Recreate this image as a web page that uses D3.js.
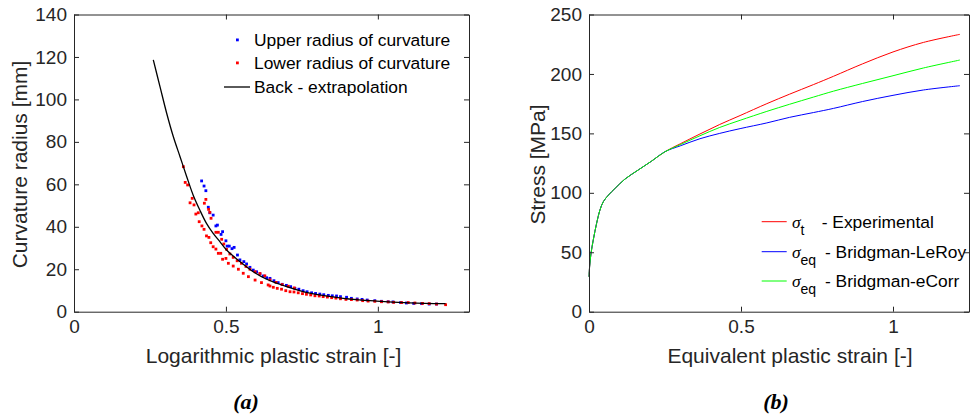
<!DOCTYPE html>
<html>
<head>
<meta charset="utf-8">
<script src="https://cdn.jsdelivr.net/npm/d3@7"></script>
<style>
  body { margin: 0; background: #fff; }
  text { font-family: "Liberation Sans", Arial, sans-serif; fill: #262626; }
  .tick text { font-size: 19px; }
  .caption { font-family: "Liberation Serif", serif; font-style: italic; font-weight: bold; font-size: 22px; fill: #000; }
</style>
</head>
<body>
<div class="chart"></div>
<script>
// ---- panel (a) data : curvature radius vs logarithmic plastic strain ----
var backStrain = [0.261, 0.283, 0.305, 0.327, 0.349, 0.371, 0.392, 0.414, 0.436, 0.458, 0.480, 0.502,
  0.546, 0.590, 0.634, 0.700, 0.776, 0.886, 0.996, 1.105, 1.223];
var backRadius = [118.6, 106.0, 93.5, 82.4, 73.0, 63.6, 55.0, 47.9, 41.6, 36.9, 33.0, 29.1,
  23.6, 18.8, 15.3, 11.8, 8.7, 6.3, 5.0, 4.2, 3.8];

var upperStrain = [0.420, 0.428, 0.434, 0.442, 0.447, 0.458, 0.467, 0.472, 0.484, 0.489, 0.500, 0.504,
  0.511, 0.520, 0.527, 0.538, 0.546, 0.559, 0.568, 0.579, 0.590, 0.601, 0.612, 0.623, 0.634,
  0.645, 0.658, 0.672, 0.685, 0.699, 0.713, 0.727, 0.740, 0.754, 0.767, 0.782, 0.795, 0.809, 0.822,
  0.837, 0.850, 0.864, 0.877, 0.897, 0.913, 0.932, 0.948, 0.965, 0.990, 1.012, 1.034, 1.050, 1.075,
  1.094, 1.118, 1.144, 1.169, 1.193];
var upperRadius = [61.6, 59.2, 57.0, 49.2, 46.6, 45.5, 40.4, 40.8, 36.4, 37.7, 33.4, 30.9,
  30.9, 29.7, 30.3, 26.7, 24.4, 23.6, 22.5, 20.9, 19.6, 18.8, 17.8, 16.8, 16.0,
  15.7, 14.6, 13.7, 12.9, 12.4, 11.8, 11.0, 10.6, 9.9, 9.4, 8.9, 8.6, 8.3, 8.0,
  7.7, 7.5, 7.4, 7.1, 6.8, 6.3, 6.0, 5.8, 5.5, 5.2, 4.9, 4.7, 4.6, 4.3,
  4.1, 3.9, 3.8, 3.6, 3.6];

var lowerStrain = [0.360, 0.366, 0.374, 0.382, 0.389, 0.395, 0.401, 0.409, 0.412, 0.421, 0.428, 0.429,
  0.434, 0.436, 0.444, 0.443, 0.447, 0.450, 0.451, 0.458, 0.467, 0.475, 0.467, 0.475, 0.483, 0.489,
  0.486, 0.493, 0.502, 0.500, 0.508, 0.513, 0.524, 0.524, 0.537, 0.541, 0.551, 0.557, 0.566, 0.574,
  0.579, 0.596, 0.596, 0.612, 0.617, 0.628, 0.639, 0.645, 0.665, 0.685, 0.705, 0.725,
  0.645, 0.656, 0.669, 0.683, 0.697, 0.711, 0.724, 0.738, 0.752, 0.765, 0.779, 0.793, 0.807, 0.820,
  0.834, 0.848, 0.862, 0.877, 0.895, 0.913, 0.932, 0.950, 0.968, 0.990, 1.012, 1.034, 1.052, 1.078,
  1.100, 1.122, 1.147, 1.169, 1.193, 1.223];
var lowerRadius = [68.3, 60.9, 59.7, 51.3, 53.4, 50.3, 46.0, 46.6, 42.4, 40.4, 38.8, 51.1,
  52.9, 35.7, 35.0, 48.2, 46.8, 32.5, 44.0, 30.6, 37.4, 37.4, 29.5, 27.5, 27.5, 24.7,
  34.1, 31.9, 29.4, 25.1, 22.8, 27.2, 21.5, 25.6, 24.0, 20.0, 22.8, 18.1, 21.3, 16.5,
  20.0, 14.9, 18.8, 18.0, 13.7, 16.9, 12.6, 15.0, 13.8, 12.8, 12.0, 11.2,
  12.1, 11.5, 11.0, 10.6, 9.9, 9.4, 9.3, 8.9, 8.5, 8.2, 7.9, 7.5, 7.4, 7.1,
  6.9, 6.6, 6.4, 6.1, 5.8, 5.7, 5.5, 5.2, 5.0, 4.9, 4.7, 4.6, 4.4, 4.3,
  4.3, 4.1, 3.9, 3.8, 3.6, 3.3];

// ---- panel (b) data : stress vs equivalent plastic strain ----
var eqStrain = [0, 0.002, 0.0066, 0.014, 0.025, 0.036, 0.047, 0.064, 0.086, 0.118, 0.162, 0.206, 0.25,
  0.30, 0.365, 0.43, 0.497, 0.585, 0.66, 0.738, 0.804, 0.90, 1.0, 1.10, 1.22];
var stressExp = [29.4, 37.8, 49.1, 60.3, 74.3, 85.5, 92.5, 98.1, 103.8, 111.5, 119.2, 126.7, 134.6,
  141.2, 149.5, 157.5, 165, 175, 183, 191, 198, 208.5, 218.5, 226.5, 233.3];
var stressLeRoy = [29.4, 37.8, 49.1, 60.3, 74.3, 85.5, 92.5, 98.1, 103.8, 111.5, 119.2, 126.7, 134.6,
  139.5, 145.5, 150, 154, 158.8, 163.5, 167.5, 171, 176.8, 182, 186.5, 190.1];
var stressECorr = [29.4, 37.8, 49.1, 60.3, 74.3, 85.5, 92.5, 98.1, 103.8, 111.5, 119.2, 126.7, 134.6,
  140.5, 148, 155, 161, 168.5, 174.5, 180.5, 185.5, 192, 198.5, 205, 211.7];

var ticksA_x = [0, 0.5, 1];
var ticksA_y = [0, 20, 40, 60, 80, 100, 120, 140];
var ticksB_x = [0, 0.5, 1];
var ticksB_y = [0, 50, 100, 150, 200, 250];

var svg = d3.select(".chart")
  .append("svg")
  .attr("width", 977)
  .attr("height", 417);

svg.append("rect").attr("width", 977).attr("height", 417).attr("fill", "#fff");

// draws a MATLAB style box with inward ticks
function drawBox(g, x, y, xt, yt) {
  var w = x.range()[1], h = y.range()[0];
  var fmt = d3.format("~g");

  g.append("g").attr("transform", `translate(0,${h})`)
    .call(d3.axisBottom(x).tickValues(xt).tickFormat(fmt).tickSizeInner(-5).tickSizeOuter(0).tickPadding(8));
  g.append("g")
    .call(d3.axisTop(x).tickValues(xt).tickFormat("").tickSizeInner(-5).tickSizeOuter(0));
  g.append("g")
    .call(d3.axisLeft(y).tickValues(yt).tickFormat(fmt).tickSizeInner(-5).tickSizeOuter(0).tickPadding(7));
  g.append("g").attr("transform", `translate(${w},0)`)
    .call(d3.axisRight(y).tickValues(yt).tickFormat("").tickSizeInner(-5).tickSizeOuter(0));

  g.selectAll(".domain").attr("stroke", "#262626");
  g.selectAll(".tick line").attr("stroke", "#262626");
  g.selectAll(".tick text").attr("fill", "#262626");
}

// ---------- panel (a) ----------
var gA = svg.append("g").attr("transform", "translate(74,14.5)");
var xA = d3.scaleLinear().domain([0, 1.3]).range([0, 395]);
var yA = d3.scaleLinear().domain([0, 140]).range([297.2, 0]);

var back = backStrain.map((v, i) => [v, backRadius[i]]);
var upper = upperStrain.map((v, i) => [v, upperRadius[i]]);
var lower = lowerStrain.map((v, i) => [v, lowerRadius[i]]);

gA.selectAll(".up").data(upper).enter().append("rect")
  .attr("x", d => xA(d[0]) - 1.4).attr("y", d => yA(d[1]) - 1.4)
  .attr("width", 2.8).attr("height", 2.8).attr("fill", "#0000ff");

gA.selectAll(".lo").data(lower).enter().append("rect")
  .attr("x", d => xA(d[0]) - 1.4).attr("y", d => yA(d[1]) - 1.4)
  .attr("width", 2.8).attr("height", 2.8).attr("fill", "#ff0000");

gA.append("path").datum(back)
  .attr("d", d3.line().x(d => xA(d[0])).y(d => yA(d[1])).curve(d3.curveCatmullRom))
  .attr("fill", "none").attr("stroke", "#000").attr("stroke-width", 1.3);

drawBox(gA, xA, yA, ticksA_x, ticksA_y);

// legend (a)
var legA = gA.append("g").attr("font-size", 17.4);
legA.append("rect").attr("x", 162).attr("y", 24).attr("width", 2.8).attr("height", 2.8).attr("fill", "#0000ff");
legA.append("rect").attr("x", 162).attr("y", 47).attr("width", 2.8).attr("height", 2.8).attr("fill", "#ff0000");
legA.append("line").attr("x1", 150).attr("x2", 176).attr("y1", 72.5).attr("y2", 72.5)
  .attr("stroke", "#000").attr("stroke-width", 1.3);
legA.append("text").attr("x", 180).attr("y", 25.5).attr("dy", "0.35em").style("fill", "#000").text("Upper radius of curvature");
legA.append("text").attr("x", 180).attr("y", 48.5).attr("dy", "0.35em").style("fill", "#000").text("Lower radius of curvature");
legA.append("text").attr("x", 180).attr("y", 72.5).attr("dy", "0.35em").style("fill", "#000").text("Back - extrapolation");

gA.append("text").attr("transform", "translate(-47,150) rotate(-90)")
  .attr("text-anchor", "middle").attr("font-size", 21).text("Curvature radius [mm]");
gA.append("text").attr("x", 199.5).attr("y", 348).attr("text-anchor", "middle")
  .attr("font-size", 21).text("Logarithmic plastic strain [-]");

// ---------- panel (b) ----------
var gB = svg.append("g").attr("transform", "translate(589,14.5)");
var xB = d3.scaleLinear().domain([0, 1.25]).range([0, 380]);
var yB = d3.scaleLinear().domain([0, 250]).range([297.2, 0]);

var stressLine = d3.line().x(d => xB(d[0])).y(d => yB(d[1])).curve(d3.curveCatmullRom);
var series = [
  { vals: stressExp, color: "#ff0000" },
  { vals: stressLeRoy, color: "#0000ff" },
  { vals: stressECorr, color: "#00ff00" }
];
series.forEach(s => {
  gB.append("path").datum(eqStrain.map((v, i) => [v, s.vals[i]]))
    .attr("d", stressLine).attr("fill", "none")
    .attr("stroke", s.color).attr("stroke-width", 1);
});

drawBox(gB, xB, yB, ticksB_x, ticksB_y);

// legend (b)
var legB = gB.append("g").attr("font-size", 17.4);
var legRows = [
  { sub: "t", label: "- Experimental", color: "#ff0000", y: 207.2, lx: 232.7 },
  { sub: "eq", label: "- Bridgman-LeRoy", color: "#0000ff", y: 237.2, lx: 236 },
  { sub: "eq", label: "- Bridgman-eCorr", color: "#00ff00", y: 266.5, lx: 236 }
];
legRows.forEach(r => {
  legB.append("line").attr("x1", 172.7).attr("x2", 197.7).attr("y1", r.y).attr("y2", r.y)
    .attr("stroke", r.color).attr("stroke-width", 1);
  var t = legB.append("text").attr("x", 203).attr("y", r.y).attr("dy", "0.35em").style("fill", "#000");
  t.append("tspan").attr("font-family", "'Liberation Serif', serif").attr("font-style", "italic").text("σ");
  t.append("tspan").attr("dy", 7).attr("font-size", 14).text(r.sub);
  legB.append("text").attr("x", r.lx).attr("y", r.y).attr("dy", "0.35em").style("fill", "#000").text(r.label);
});

gB.append("text").attr("transform", "translate(-44,150) rotate(-90)")
  .attr("text-anchor", "middle").attr("font-size", 21).text("Stress [MPa]");
gB.append("text").attr("x", 201).attr("y", 348).attr("text-anchor", "middle")
  .attr("font-size", 21).text("Equivalent plastic strain [-]");

// captions
svg.append("text").attr("class", "caption").attr("x", 246).attr("y", 409).attr("text-anchor", "middle").text("(a)");
svg.append("text").attr("class", "caption").attr("x", 776).attr("y", 409).attr("text-anchor", "middle").text("(b)");
</script>
</body>
</html>
